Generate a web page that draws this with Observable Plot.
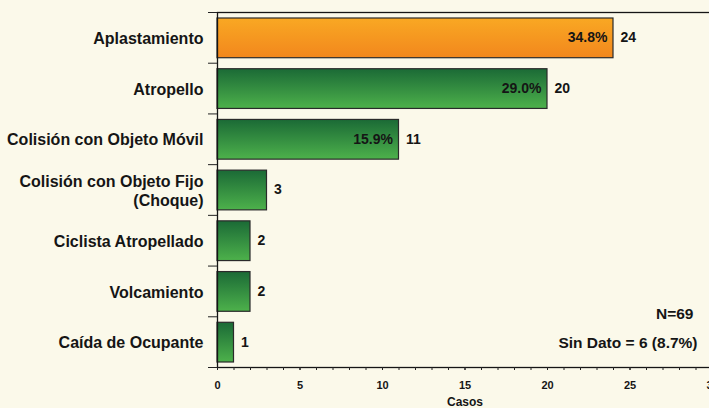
<!DOCTYPE html>
<html>
<head>
<meta charset="utf-8">
<script src="https://cdn.jsdelivr.net/npm/d3@7"></script>
<script src="https://cdn.jsdelivr.net/npm/@observablehq/plot@0.6"></script>
<style>
  html, body { margin: 0; padding: 0; background: #FBF9EA; }
  #chart svg { display: block; }
</style>
</head>
<body>
<div id="chart"></div>
<script>
// ---- data ----
const categories = [
  "Aplastamiento",
  "Atropello",
  "Colisión con Objeto Móvil",
  "Colisión con Objeto Fijo\n(Choque)",
  "Ciclista Atropellado",
  "Volcamiento",
  "Caída de Ocupante"
];
const casos = [24, 20, 11, 3, 2, 2, 1];
const porcentajes = ["34.8%", "29.0%", "15.9%", null, null, null, null];
const xMajorTicks = [0, 5, 10, 15, 20, 25, 30];
const xMinorTicks = [0,1,2,3,4,5,6,7,8,9,10,11,12,13,14,15,16,17,18,19,20,21,22,23,24,25,26,27,28,29,30];
const bandEdges = [0, 1, 2, 3, 4, 5, 6, 7];
const xLabel = "Casos";
const notaN = "N=69";
const notaSinDato = "Sin Dato = 6 (8.7%)";

const rows = categories.map((cat, i) => ({cat, i, casos: casos[i], pct: porcentajes[i]}));
const font = "Liberation Sans, Arial, Helvetica, sans-serif";

const svg = Plot.plot({
  width: 709,
  height: 408,
  marginLeft: 217,
  marginRight: -3,
  marginTop: 12,
  marginBottom: 41,
  style: {background: "#FBF9EA", color: "#151515", fontFamily: font, overflow: "hidden"},
  x: {domain: [0, 30], label: null},
  y: {domain: [0, 7], reverse: true, label: null},
  marks: [
    // bars
    Plot.rect(rows.filter(d => d.i === 0), {
      x1: 0, x2: "casos", y1: d => d.i, y2: d => d.i + 1,
      insetTop: 6, insetBottom: 5,
      fill: "url(#gOrange)", stroke: "#2a2a2a", strokeWidth: 1.2
    }),
    Plot.rect(rows.filter(d => d.i !== 0), {
      x1: 0, x2: "casos", y1: d => d.i, y2: d => d.i + 1,
      insetTop: 6, insetBottom: 5,
      fill: "url(#gGreen)", stroke: "#2a2a2a", strokeWidth: 1.2
    }),
    // frame (axis lines + top line)
    Plot.frame({stroke: "#151515", strokeWidth: 1.3}),
    // y boundary ticks
    Plot.axisY({ticks: bandEdges, tickSize: 9, tickFormat: () => "", stroke: "#222", label: null}),
    // x minor ticks
    Plot.axisX({ticks: xMinorTicks, tickSize: 3, tickFormat: () => "", stroke: "#222", label: null}),
    // x major ticks + labels
    Plot.axisX({ticks: xMajorTicks, tickSize: 3, tickPadding: 11, fontSize: 11, fontWeight: "bold", stroke: "#222", label: null}),
    // category labels
    Plot.text(rows, {
      frameAnchor: "left", y: d => d.i + 0.5, text: "cat",
      textAnchor: "end", dx: -14, lineHeight: 1.2,
      fontSize: 16, fontWeight: "bold", fill: "#151515"
    }),
    // percent labels inside
    Plot.text(rows.filter(d => d.pct), {
      x: "casos", y: d => d.i + 0.5, text: "pct",
      textAnchor: "end", dx: -6, fontSize: 14, fontWeight: "bold", fill: "#151515"
    }),
    // count labels outside
    Plot.text(rows, {
      x: "casos", y: d => d.i + 0.5, text: d => String(d.casos),
      textAnchor: "start", dx: 7, fontSize: 14, fontWeight: "bold", fill: "#151515"
    }),
    // notes
    Plot.text([notaN], {frameAnchor: "bottom-right", text: d => d, textAnchor: "end", dx: -19, dy: -49, fontSize: 15.5, fontWeight: "bold", fill: "#151515"}),
    Plot.text([notaSinDato], {frameAnchor: "bottom-right", text: d => d, textAnchor: "end", dx: -15, dy: -20, fontSize: 15.5, fontWeight: "bold", fill: "#151515"}),
    // x axis title
    Plot.text([xLabel], {frameAnchor: "bottom", text: d => d, dy: 38, fontSize: 12, fontWeight: "bold", fill: "#151515"})
  ]
});

// gradients
const ns = "http://www.w3.org/2000/svg";
const defs = document.createElementNS(ns, "defs");
function grad(id, top, bottom) {
  const g = document.createElementNS(ns, "linearGradient");
  g.setAttribute("id", id);
  g.setAttribute("x1", "0"); g.setAttribute("y1", "0");
  g.setAttribute("x2", "0"); g.setAttribute("y2", "1");
  [[0, top], [1, bottom]].forEach(([o, c]) => {
    const s = document.createElementNS(ns, "stop");
    s.setAttribute("offset", o);
    s.setAttribute("stop-color", c);
    g.appendChild(s);
  });
  defs.appendChild(g);
}
grad("gOrange", "#F9A823", "#F2871D");
grad("gGreen", "#1B6A36", "#4DB14B");
svg.insertBefore(defs, svg.firstChild);

document.getElementById("chart").appendChild(svg);
</script>
</body>
</html>
